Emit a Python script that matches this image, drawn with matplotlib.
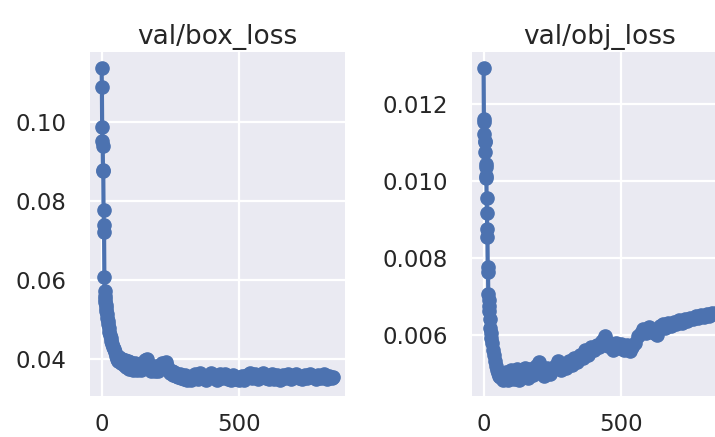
import numpy as np
import matplotlib
matplotlib.use("Agg")
import matplotlib.pyplot as plt
import seaborn as sns
from matplotlib.ticker import MultipleLocator

# values (epoch, loss)
box_epoch = [0, 1, 2, 3, 4, 5, 6, 7, 8, 9, 10, 11, 12, 13, 14, 15, 16, 17, 18,
             20, 22, 24, 26, 28, 30, 33, 36, 39, 42, 45, 48, 52, 56, 60, 65, 70,
             75, 80, 85, 90, 95, 100, 105, 110, 115, 120, 125, 130, 135, 140,
             145, 150, 155, 160, 165, 170, 175, 180, 185, 190, 195, 200, 205,
             210, 215, 220, 225, 230, 235, 240, 245, 250, 255, 260, 265, 270,
             275, 280, 285, 290, 295, 300, 305, 310, 315, 320, 325, 330, 340,
             350, 360, 370, 380, 390, 400, 410, 420, 430, 440, 450, 460, 470,
             480, 490, 500, 510, 520, 530, 540, 550, 560, 570, 580, 590, 600,
             610, 620, 630, 640, 650, 660, 670, 680, 690, 700, 710, 720, 730,
             740, 750, 760, 770, 780, 790, 800, 810, 820, 830, 840, 845]
box_loss = [0.1136, 0.1086, 0.0987, 0.0952, 0.0939, 0.0879, 0.0875, 0.0778,
            0.0738, 0.0721, 0.0609, 0.0572, 0.0561, 0.0552, 0.0545, 0.0538,
            0.0530, 0.0522, 0.0515, 0.0505, 0.0496, 0.0488, 0.0478, 0.0470,
            0.0462, 0.0455, 0.0447, 0.0440, 0.0432, 0.0425, 0.0418, 0.0408,
            0.0402, 0.0396, 0.0406, 0.0390, 0.0401, 0.0385, 0.0399, 0.0380,
            0.0395, 0.0376, 0.0393, 0.0378, 0.0374, 0.0390, 0.0379, 0.0373,
            0.0389, 0.0376, 0.0372, 0.0386, 0.0393, 0.0398, 0.0400, 0.0388,
            0.0375, 0.0371, 0.0384, 0.0374, 0.0370, 0.0382, 0.0371, 0.0379,
            0.0385, 0.0392, 0.0378, 0.0389, 0.0394, 0.0383, 0.0372, 0.0366,
            0.0370, 0.0361, 0.0368, 0.0358, 0.0364, 0.0355, 0.0362, 0.0352,
            0.0359, 0.0350, 0.0360, 0.0348, 0.0356, 0.0351, 0.0347, 0.0359,
            0.0362, 0.0350, 0.0365, 0.0353, 0.0348, 0.0361, 0.0366, 0.0354,
            0.0349, 0.0363, 0.0352, 0.0364, 0.0351, 0.0348, 0.0360, 0.0350,
            0.0347, 0.0358, 0.0349, 0.0361, 0.0365, 0.0352, 0.0363, 0.0350,
            0.0359, 0.0366, 0.0353, 0.0350, 0.0362, 0.0351, 0.0360, 0.0349,
            0.0361, 0.0353, 0.0364, 0.0351, 0.0358, 0.0364, 0.0354, 0.0350,
            0.0361, 0.0352, 0.0363, 0.0355, 0.0350, 0.0360, 0.0352, 0.0362,
            0.0351, 0.0358, 0.0353, 0.0356]

obj_epoch = [0, 1, 2, 3, 4, 5, 6, 7, 8, 9, 10, 11, 12, 13, 14, 15, 16, 17, 18,
             19, 20, 22, 24, 26, 28, 30, 33, 36, 40, 44, 48, 52, 56, 60, 70, 80,
             90, 100, 110, 120, 130, 140, 150, 160, 170, 180, 190, 200, 210,
             220, 230, 240, 250, 260, 270, 280, 290, 300, 310, 320, 330, 340,
             350, 360, 370, 380, 390, 400, 410, 420, 430, 440, 450, 460, 470,
             480, 490, 500, 510, 520, 530, 540, 550, 560, 570, 580, 590, 600,
             610, 620, 630, 640, 650, 660, 670, 680, 690, 700, 710, 720, 730,
             740, 750, 760, 770, 780, 790, 800, 810, 820, 830, 840, 845]
obj_loss = [0.01293, 0.01160, 0.01152, 0.01122, 0.01103, 0.01100, 0.01075,
            0.01042, 0.01036, 0.01012, 0.01006, 0.00955, 0.00916, 0.00874,
            0.00854, 0.00775, 0.00762, 0.00706, 0.00690, 0.00675, 0.00662,
            0.00640, 0.00619, 0.00605, 0.00592, 0.00578, 0.00562, 0.00548,
            0.00532, 0.00520, 0.00510, 0.00500, 0.00494, 0.00490, 0.00482,
            0.00505, 0.00484, 0.00510, 0.00486, 0.00512, 0.00483, 0.00502,
            0.00514, 0.00488, 0.00512, 0.00495, 0.00518, 0.00530, 0.00500,
            0.00494, 0.00514, 0.00498, 0.00510, 0.00520, 0.00532, 0.00508,
            0.00522, 0.00515, 0.00532, 0.00522, 0.00540, 0.00530, 0.00548,
            0.00540, 0.00560, 0.00548, 0.00568, 0.00560, 0.00575, 0.00568,
            0.00584, 0.00596, 0.00572, 0.00580, 0.00562, 0.00578, 0.00566,
            0.00576, 0.00560, 0.00574, 0.00558, 0.00568, 0.00580, 0.00596,
            0.00606, 0.00615, 0.00604, 0.00620, 0.00612, 0.00604, 0.00600,
            0.00622, 0.00628, 0.00618, 0.00632, 0.00624, 0.00634, 0.00628,
            0.00638, 0.00632, 0.00642, 0.00636, 0.00645, 0.00640, 0.00648,
            0.00643, 0.00652, 0.00646, 0.00655, 0.00650, 0.00658, 0.00653,
            0.00656]

titles = ["val/box_loss", "val/obj_loss"]

sns.set_theme(style="darkgrid")
plt.rcParams["font.family"] = ["DejaVu Sans"]

fig = plt.figure(figsize=(7.15, 4.37), dpi=100)
ax1 = fig.add_axes([0.1259, 0.0938, 0.3566, 0.7872])
ax2 = fig.add_axes([0.6601, 0.0938, 0.3580, 0.7872])

series = [(box_epoch, box_loss, 0.02), (obj_epoch, obj_loss, 0.002)]
for ax, (x, y, step), title in zip([ax1, ax2], series, titles):
    ax.plot(np.array(x), np.array(y), marker="o", color="#4C72B0", lw=3, ms=9.5)
    ax.set_title(title, fontsize=19, color="#262626", pad=6)
    ax.xaxis.set_major_locator(MultipleLocator(500))
    ax.yaxis.set_major_locator(MultipleLocator(step))
    ax.tick_params(axis="x", length=0, pad=12, labelsize=16.5, colors="#262626")
    ax.tick_params(axis="y", length=0, pad=17, labelsize=16.5, colors="#262626")
    ax.grid(color="white", lw=1.6)
    ax.set_facecolor("#EAEAF2")
    for s in ax.spines.values():
        s.set_visible(False)

fig.savefig("out.png", dpi=100)
